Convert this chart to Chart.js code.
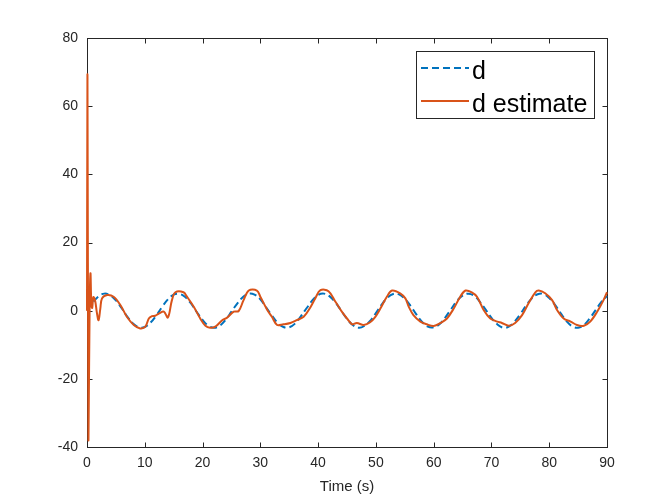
<!DOCTYPE html>
<html>
<head>
<meta charset="utf-8">
<script src="https://cdn.jsdelivr.net/npm/chart.js@4.4.1/dist/chart.umd.min.js"></script>
<style>
  html, body { margin: 0; padding: 0; background: #ffffff; }
  #wrap { width: 671px; height: 503px; }
</style>
</head>
<body>
<div id="wrap"><canvas id="c" width="671" height="503"></canvas></div>
<script>
// ---- data ----
const dTime = [0,1,2,3,4,5,6,7,8,9,10,11,12,13,14,15,16,17,18,19,20,21,22,23,24,25,26,27,28,29,30,31,32,33,34,35,36,37,38,39,40,41,42,43,44,45,46,47,48,49,50,51,52,53,54,55,56,57,58,59,60,61,62,63,64,65,66,67,68,69,70,71,72,73,74,75,76,77,78,79,80,81,82,83,84,85,86,87,88,89,90];
const dValues = [0,2.4,4.2,5.0,4.5,3.0,0.7,-1.8,-3.8,-4.9,-4.8,-3.5,-1.4,1.1,3.3,4.7,4.9,4.0,2.1,-0.4,-2.7,-4.4,-5.0,-4.4,-2.7,-0.3,2.1,4.0,5.0,4.7,3.3,1.0,-1.4,-3.6,-4.8,-4.9,-3.8,-1.7,0.7,3.0,4.6,5.0,4.2,2.4,0.0,-2.4,-4.2,-5.0,-4.5,-3.0,-0.7,1.8,3.8,4.9,4.8,3.5,1.4,-1.1,-3.3,-4.7,-4.9,-4.0,-2.0,0.4,2.8,4.4,5.0,4.4,2.6,0.3,-2.1,-4.0,-5.0,-4.7,-3.2,-1.0,1.5,3.6,4.8,4.9,3.7,1.7,-0.8,-3.1,-4.6,-5.0,-4.2,-2.3,0.1,2.5,4.3];

const estTime = [0,0.08,0.25,0.45,0.6,0.75,0.9,1.1,1.4,1.7,2.0,2.3,2.6,3.5,4.6,5.8,6.9,8.1,9.2,10.1,10.7,11.25,11.8,12.5,13.3,14.0,14.7,15.3,16.7,17.3,18.5,19.6,20.5,21.3,22.2,23.4,24.2,25.4,26.25,27.1,28.0,29.4,30.0,31.2,32.0,32.9,34.0,35.2,36.3,37.5,38.7,39.5,40.4,41.8,43.0,44.1,45.0,45.9,46.7,47.9,49.0,49.9,50.8,51.9,52.8,54.2,55.1,55.7,56.5,57.7,58.8,60.0,61.2,62.3,63.5,64.6,65.5,66.6,67.5,68.65,69.8,71.0,71.8,73.0,74.1,75.3,76.4,77.6,78.2,79.3,80.5,81.35,82.5,83.7,84.8,86.0,87.1,88.3,89.4,90.0];
const estValues = [0,69,-38,0,11,2,0.8,4,3,-0.5,-2.8,0.5,3.6,4.6,4.1,1.6,-1.8,-4.2,-5.2,-4.7,-2.3,-1.6,-1.5,-0.8,-0.3,-2.0,3.1,5.4,5.4,4.1,1.1,-2.3,-4.4,-5.0,-4.7,-2.8,-2.1,-0.3,-0.1,3.1,5.9,5.9,4.1,0.2,-1.8,-4.2,-4.0,-3.6,-2.8,-1.8,1.1,3.6,6.0,5.7,2.6,-0.3,-2.3,-4.0,-3.6,-4.2,-3.4,-1.8,0.7,4.1,5.9,5.1,3.6,1.1,-1.3,-3.2,-4.0,-4.5,-3.6,-2.3,0.7,4.1,5.9,5.4,4.1,0.2,-2.3,-3.2,-3.6,-4.4,-3.6,-1.3,2.1,5.4,5.9,5.1,3.1,0.2,-2.3,-3.2,-4.2,-4.4,-3.2,-0.3,3.1,5.4];

const xTicks = [0,10,20,30,40,50,60,70,80,90];
const yTicks = [-40,-20,0,20,40,60,80];
const seriesLabels = ['d', 'd estimate'];
const xTitle = 'Time (s)';

const BLUE = '#0072BD';
const ORANGE = '#D95319';
const AXIS = '#262626';

const toPts = (xs, ys) => xs.map((x, i) => ({ x: x, y: ys[i] }));

// MATLAB-style box, inward ticks and legend
const matlabDecor = {
  id: 'matlabDecor',
  beforeDatasetsDraw(chart) {
    const { ctx, chartArea: a, scales } = chart;
    ctx.save();
    ctx.strokeStyle = AXIS;
    ctx.lineWidth = 1;
    const L = Math.round(a.left) + 0.5, R = Math.round(a.right) + 0.5;
    const T = Math.round(a.top) + 0.5, B = Math.round(a.bottom) + 0.5;
    ctx.strokeRect(L, T, R - L, B - T);
    const tl = 5;
    ctx.beginPath();
    xTicks.forEach(v => {
      const px = Math.round(scales.x.getPixelForValue(v)) + 0.5;
      ctx.moveTo(px, B); ctx.lineTo(px, B - tl);
      ctx.moveTo(px, T); ctx.lineTo(px, T + tl);
    });
    yTicks.forEach(v => {
      const py = Math.round(scales.y.getPixelForValue(v)) + 0.5;
      ctx.moveTo(L, py); ctx.lineTo(L + tl, py);
      ctx.moveTo(R, py); ctx.lineTo(R - tl, py);
    });
    ctx.stroke();
    ctx.restore();
  },
  afterDraw(chart) {
    const { ctx } = chart;
    const ds = chart.data.datasets;
    ctx.save();
    const bx = 416.5, by = 51.5, bw = 178, bh = 67;
    ctx.fillStyle = '#ffffff';
    ctx.fillRect(bx, by, bw, bh);
    ctx.strokeStyle = AXIS;
    ctx.lineWidth = 1;
    ctx.strokeRect(bx, by, bw, bh);
    const rows = [68, 101];
    const bases = [79, 112];
    ds.forEach((d, i) => {
      ctx.beginPath();
      ctx.strokeStyle = d.borderColor;
      ctx.lineWidth = d.borderWidth;
      ctx.setLineDash(d.borderDash || []);
      ctx.moveTo(421, rows[i]);
      ctx.lineTo(469, rows[i]);
      ctx.stroke();
      ctx.setLineDash([]);
      ctx.fillStyle = '#000000';
      ctx.font = '25px "Liberation Sans", Arial, sans-serif';
      ctx.textBaseline = 'alphabetic';
      ctx.textAlign = 'left';
      ctx.fillText(d.label, 472, bases[i]);
    });
    ctx.restore();
  }
};

new Chart(document.getElementById('c'), {
  type: 'line',
  data: {
    datasets: [
      {
        label: seriesLabels[0],
        data: toPts(dTime, dValues),
        borderColor: BLUE,
        backgroundColor: BLUE,
        borderWidth: 2,
        borderDash: [7, 4],
        pointRadius: 0,
        tension: 0.4,
        fill: false,
        order: 2
      },
      {
        label: seriesLabels[1],
        data: toPts(estTime, estValues),
        borderColor: ORANGE,
        backgroundColor: ORANGE,
        borderWidth: 2,
        pointRadius: 0,
        tension: 0.35,
        fill: false,
        order: 1
      }
    ]
  },
  options: {
    responsive: false,
    animation: false,
    devicePixelRatio: 1,
    clip: false,
    layout: { padding: { top: 38, right: 64, left: 0, bottom: 0 } },
    plugins: { legend: { display: false }, tooltip: { enabled: false } },
    scales: {
      x: {
        type: 'linear',
        min: 0, max: 90,
        afterBuildTicks: s => { s.ticks = xTicks.map(v => ({ value: v })); },
        afterFit: s => { s.height = 56; },
        grid: { display: false, drawTicks: false },
        border: { display: false },
        ticks: {
          color: AXIS, padding: 8, maxRotation: 0,
          font: { family: '"Liberation Sans", Arial, sans-serif', size: 14 }
        },
        title: {
          display: true, text: xTitle, color: AXIS,
          font: { family: '"Liberation Sans", Arial, sans-serif', size: 15 },
          padding: { top: 0, bottom: 7 }
        }
      },
      y: {
        type: 'linear',
        min: -40, max: 80,
        afterBuildTicks: s => { s.ticks = yTicks.map(v => ({ value: v })); },
        afterFit: s => { s.width = 87; },
        grid: { display: false, drawTicks: false },
        border: { display: false },
        ticks: {
          color: AXIS, padding: 9,
          font: { family: '"Liberation Sans", Arial, sans-serif', size: 14 }
        }
      }
    }
  },
  plugins: [matlabDecor]
});
</script>
</body>
</html>
